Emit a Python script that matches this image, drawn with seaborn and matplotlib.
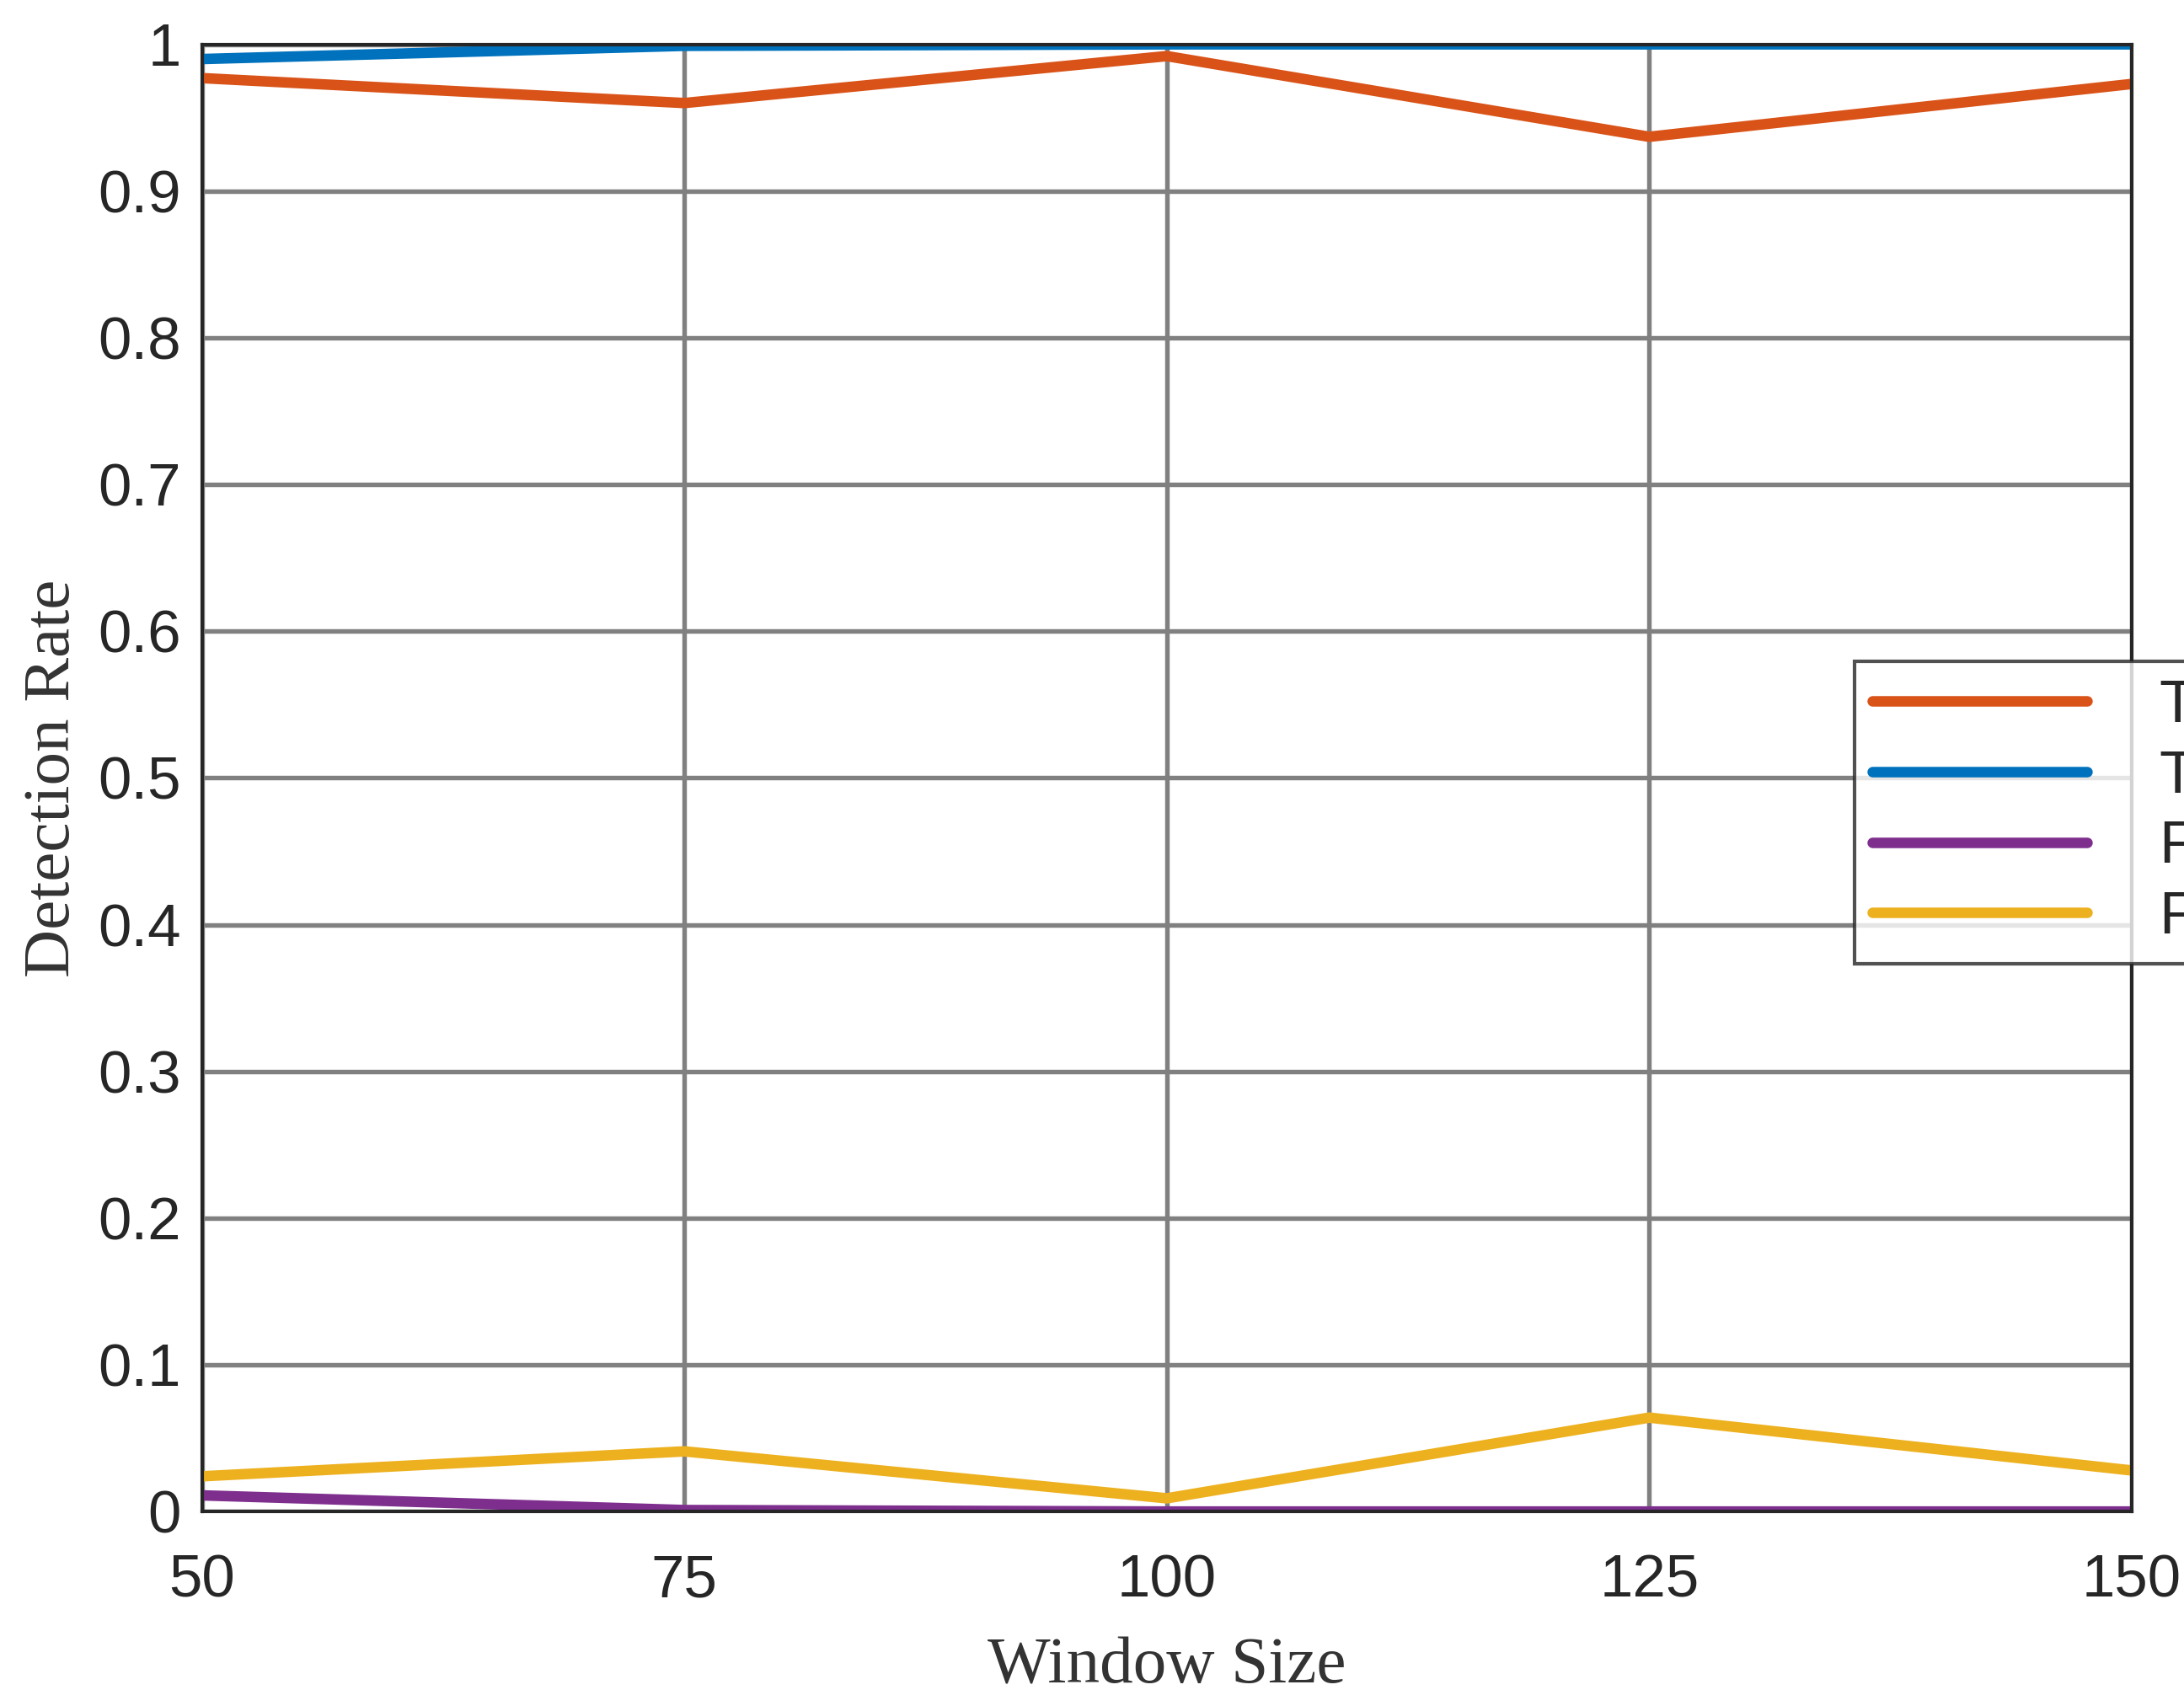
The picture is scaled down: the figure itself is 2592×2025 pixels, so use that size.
import matplotlib

matplotlib.use("Agg")

import matplotlib.pyplot as plt
import pandas as pd
import seaborn as sns

window_sizes = [50, 75, 100, 125, 150]
tn_rate = [0.977, 0.960, 0.992, 0.937, 0.973]
tp_rate = [0.990, 0.999, 1.000, 1.000, 1.000]
fn_rate = [0.011, 0.001, 0.000, 0.000, 0.000]
fp_rate = [0.024, 0.041, 0.009, 0.064, 0.028]

series = {"TN": tn_rate, "TP": tp_rate, "FN": fn_rate, "FP": fp_rate}
palette = {"TN": "#D95319", "TP": "#0072BD", "FN": "#7E2F8E", "FP": "#EDB120"}

rows = []
for name, values in series.items():
    for w, v in zip(window_sizes, values):
        rows.append({"Window Size": w, "Rate": v, "Series": name})
df = pd.DataFrame(rows)

sns.set_theme(style="white")
plt.rcParams["font.family"] = ["Liberation Sans", "DejaVu Sans"]

fig = plt.figure(figsize=(8.64, 6.75), dpi=300)
ax = fig.add_axes([0.0925, 0.114, 0.8835, 0.86])

sns.lineplot(data=df, x="Window Size", y="Rate", hue="Series", palette=palette,
             linewidth=3.0, ax=ax)

ax.set_xlim(50, 150)
ax.set_ylim(0, 1)
ax.set_xticks(window_sizes)
ax.set_yticks([i / 10 for i in range(11)])
ax.set_yticklabels(["0"] + [f"{i / 10:.1f}" for i in range(1, 10)] + ["1"])
ax.tick_params(labelsize=17, colors="#262626", length=4, direction="in")
ax.tick_params(axis="x", pad=12)
ax.tick_params(axis="y", pad=6)
ax.grid(True, color="#808080", linewidth=1.3)
for s in ax.spines.values():
    s.set_color("#262626")
    s.set_linewidth(1.0)

serif = ["Liberation Serif", "DejaVu Serif"]
ax.set_xlabel("Window Size", fontsize=19, family=serif, color="#333333", labelpad=8)
ax.set_ylabel("Detection Rate", fontsize=19, family=serif, color="#333333", labelpad=4)

leg = ax.legend(loc="upper left", bbox_to_anchor=(0.841, 0.60), fontsize=17,
                frameon=True, fancybox=False, handlelength=3.6, edgecolor="#262626",
                borderpad=0.3, labelspacing=0.25, handletextpad=1.2)
leg.get_frame().set_linewidth(1.0)
for line in leg.get_lines():
    line.set_linewidth(3.0)

fig.savefig("out.png", dpi=300)
